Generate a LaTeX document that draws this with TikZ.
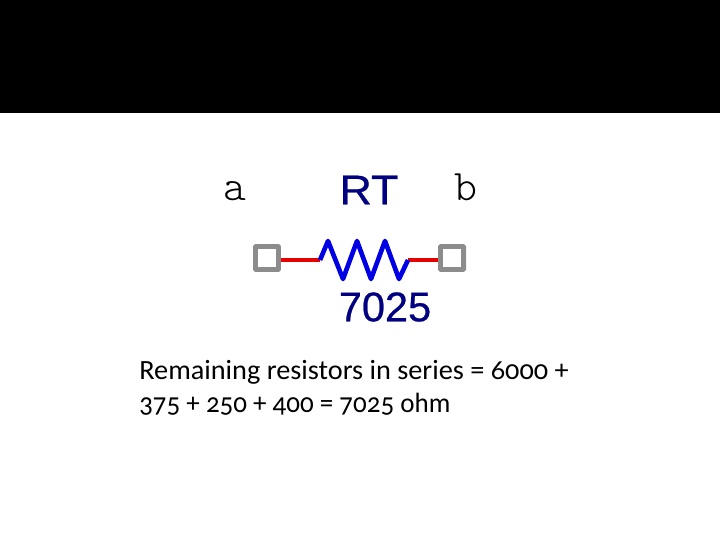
\documentclass[tikz,border=0pt]{standalone}
\usepackage{fontspec}
\setmainfont{Carlito}[Numbers=OldStyle]
\newfontfamily\labelfont[FakeBold=0.6]{Liberation Sans}
\newfontfamily\endfont{Latin Modern Mono Light}
\tikzset{
  terminal/.style={draw=gray!90, fill=white, line width=3.4pt, rounded corners=0.5pt, minimum size=16.5pt, inner sep=0pt},
  wire/.style={red!90!black, line width=2.6pt},
  valuetext/.style={text=blue!50!black, font=\labelfont\fontsize{29.5}{29.5}\selectfont},
  endtext/.style={font=\endfont\fontsize{31}{31}\selectfont},
  sumtext/.style={anchor=base west, inner sep=0pt, font=\fontsize{19.8}{19.8}\selectfont}
}
\begin{document}
\begin{tikzpicture}[x=0.025cm, y=-0.025cm]
\useasboundingbox (0,0) rectangle (720,540);
\fill[black] (0,0) rectangle (720,113);
\node[terminal] (a) at (267,258) {};
\node[terminal] (b) at (452,258) {};
\coordinate (za) at (320,260);
\coordinate (zb) at (408,260);
\draw[wire] (a.east |- za) -- (za);
\draw[wire] (zb) -- (b.west |- zb);
\draw[blue!90!black, line width=3.3pt, line join=round] (za) -- (328,241) -- (343,279) -- (357,241) -- (371,279) -- (385,241) -- (399,279) -- (zb);
\node[endtext] (alabel) at (235,191) {a};
\node[endtext] (blabel) at (466,187) {b};
\node[valuetext, xscale=1.08] (name) at (369,190) {RT};
\node[valuetext] (value) at (385,307) {7025};
\node[sumtext, xscale=1.016] (line1) at (139,379) {Remaining resistors in series = 6000 +};
\node[sumtext, xscale=0.97] (line2) at (139,412) {375 + 250 + 400 = 7025 ohm};
\end{tikzpicture}
\end{document}
